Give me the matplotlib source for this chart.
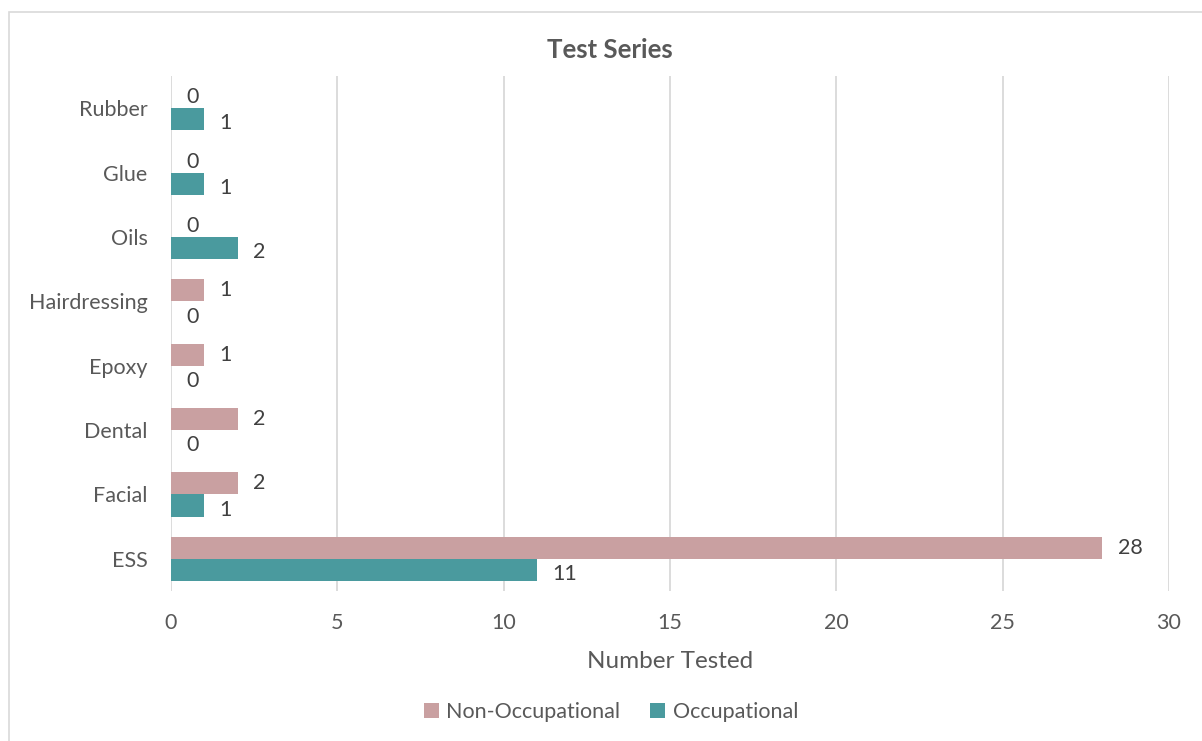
import numpy as np
import matplotlib
matplotlib.use('Agg')
from matplotlib import pyplot as plt
from matplotlib.patches import Rectangle

categories = ['ESS', 'Facial', 'Dental', 'Epoxy', 'Hairdressing', 'Oils', 'Glue', 'Rubber']
non_occupational = [28, 2, 2, 1, 1, 0, 0, 0]
occupational = [11, 1, 0, 0, 0, 2, 1, 1]
xticks = [0, 5, 10, 15, 20, 25, 30]

pink = '#C9A0A1'
teal = '#4A9A9E'
text_col = '#595959'

plt.rcParams['font.family'] = ['Lato', 'DejaVu Sans']

fig = plt.figure(figsize=(12.02, 7.41), dpi=100)
W, H = 1202, 741

# outer chart border like excel
fig.patches.append(Rectangle((9 / W, -0.01), 1.2, (741 - 12) / H + 0.01, transform=fig.transFigure,
                             fill=False, edgecolor='#D9D9D9', linewidth=1.2))

ax = fig.add_axes([171 / W, 1 - 591 / H, (1169 - 171) / W, (591 - 76) / H])

y = np.arange(len(categories))
h = 0.343
ax.barh(y + h / 2, non_occupational, height=h, color=pink, label='Non-Occupational', zorder=3)
ax.barh(y - h / 2, occupational, height=h, color=teal, label='Occupational', zorder=3)

# data labels, just past the bar end
for yi, v in zip(y, non_occupational):
    ax.annotate(str(v), (v, yi + h / 2), xytext=(11, 0), textcoords='offset points',
                va='center', ha='left', fontsize=15.5, color='#404040')
for yi, v in zip(y, occupational):
    ax.annotate(str(v), (v, yi - h / 2), xytext=(11, -3), textcoords='offset points',
                va='center', ha='left', fontsize=15.5, color='#404040')

ax.set_xlim(0, 30)
ax.set_ylim(-0.5, len(categories) - 0.5)
ax.set_xticks(xticks)
ax.set_yticks(y)
ax.set_yticklabels(categories)
ax.tick_params(axis='both', length=0, labelsize=15.5, labelcolor=text_col)
ax.tick_params(axis='x', pad=16)
ax.tick_params(axis='y', pad=17)
ax.grid(axis='x', color='#D9D9D9', linewidth=1.3, zorder=0)
for s in ax.spines.values():
    s.set_visible(False)

ax.set_xlabel('Number Tested', fontsize=17.5, color=text_col, labelpad=13)
fig.text(610 / W, 1 - 50 / H, 'Test Series', ha='center', va='center',
         fontsize=18.5, fontweight='bold', color=text_col)

fig.legend(loc='center', bbox_to_anchor=(611 / W, 1 - 712 / H), ncol=2, frameon=False,
           fontsize=15.5, labelcolor=text_col, handlelength=0.7, handleheight=0.7,
           handletextpad=0.35, columnspacing=1.4)

plt.savefig('out.png', dpi=100)
